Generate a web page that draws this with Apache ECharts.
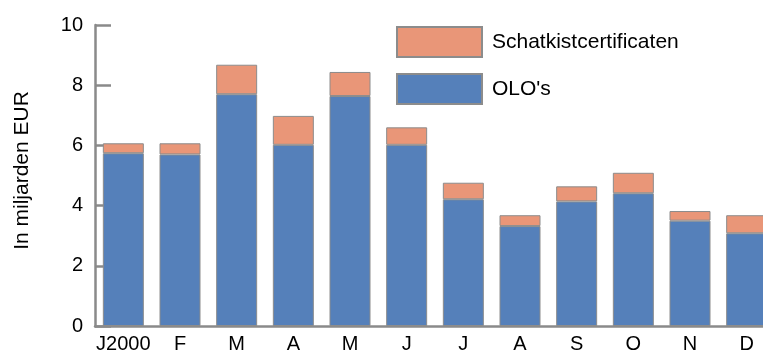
<!DOCTYPE html>
<html>
<head>
<meta charset="utf-8">
<script src="https://cdn.jsdelivr.net/npm/echarts@6/dist/echarts.min.js"></script>
<style>
  html, body { margin: 0; padding: 0; background: #fff; overflow: hidden; }
  #wrap { width: 763px; height: 354px; overflow: hidden; }
  /* the plot runs past the right edge, so the canvas is a little wider than the view */
  #chart { width: 780px; height: 354px; }
</style>
</head>
<body>
<div id="wrap"><div id="chart"></div></div>
<script>
// Monthly issuance, in billions of EUR
const months = ['J2000', 'F', 'M', 'A', 'M', 'J', 'J', 'A', 'S', 'O', 'N', 'D'];
const olos = [5.74, 5.70, 7.70, 6.02, 7.64, 6.02, 4.21, 3.32, 4.14, 4.41, 3.50, 3.08];
const schatkist = [0.33, 0.37, 0.98, 0.96, 0.80, 0.58, 0.55, 0.36, 0.50, 0.68, 0.32, 0.60];
const yTicks = [0, 2, 4, 6, 8, 10];

const axisGrey = '#8a8a8a';
const fontFamily = '"Liberation Sans", Arial, sans-serif';

const chart = echarts.init(document.getElementById('chart'), null, { renderer: 'canvas' });
chart.setOption({
  animation: false,
  textStyle: { fontFamily: fontFamily, color: '#000' },
  grid: { left: 95, top: 25, width: 680, bottom: 26, containLabel: false },
  legend: {
    orient: 'vertical',
    left: 396,
    top: 26,
    padding: 0,
    itemWidth: 85,
    itemHeight: 30,
    itemGap: 15,
    icon: 'rect',
    data: ['Schatkistcertificaten', "OLO's"],
    textStyle: { fontSize: 21, color: '#000', fontFamily: fontFamily, padding: [0, 0, 0, 5] }
  },
  xAxis: {
    type: 'category',
    data: months,
    axisLine: { lineStyle: { color: axisGrey, width: 2.5 } },
    axisTick: { show: false },
    axisLabel: { fontSize: 20, color: '#000', margin: 8, interval: 0 }
  },
  yAxis: {
    type: 'value',
    min: 0,
    max: 10,
    interval: 2,
    name: 'In miljarden EUR',
    nameLocation: 'middle',
    nameGap: 62,
    nameTextStyle: { fontSize: 21, color: '#000', padding: [0, 0, 0, 10] },
    axisLine: { show: true, lineStyle: { color: axisGrey, width: 2.5 } },
    axisTick: { show: true, inside: true, length: 16, lineStyle: { color: axisGrey, width: 2.5 } },
    axisLabel: {
      fontSize: 20, color: '#000', margin: 12,
      formatter: v => (yTicks.includes(v) ? String(v) : '')
    },
    splitLine: { show: false }
  },
  series: [
    {
      name: "OLO's",
      type: 'bar',
      stack: 'total',
      barWidth: 41,
      data: olos,
      itemStyle: { color: '#5580BA', borderColor: '#8c8c8c', borderWidth: 1 }
    },
    {
      name: 'Schatkistcertificaten',
      type: 'bar',
      stack: 'total',
      barWidth: 41,
      data: schatkist,
      itemStyle: { color: '#E99678', borderColor: '#8c8c8c', borderWidth: 1 }
    }
  ]
});
</script>
</body>
</html>
